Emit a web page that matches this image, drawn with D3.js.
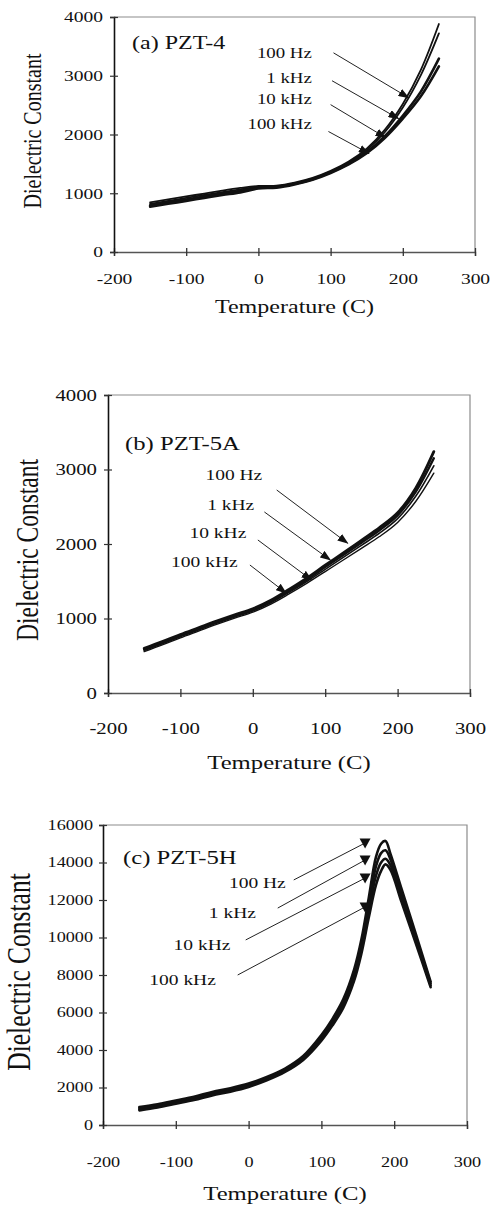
<!DOCTYPE html>
<html lang="en">
<head>
<meta charset="utf-8">
<title>Dielectric Constant vs Temperature</title>
<script src="https://cdnjs.cloudflare.com/ajax/libs/d3/7.8.5/d3.min.js"></script>
<style>
  body { margin: 0; background: #fff; }
  svg { display: block; font-family: "Liberation Serif", "Times New Roman", serif; }
  .frame { fill: none; stroke: #8c8c8c; stroke-width: 1.2; }
  .curve { fill: none; stroke: #111; stroke-linejoin: round; stroke-linecap: round; }
  .pointer { stroke: #222; stroke-width: 1; fill: none; }
  text { fill: #111; }
</style>
</head>
<body>
<svg id="chart" width="490" height="1207"></svg>
<script>
// ---- data ----
var freqLabels = ["100 Hz", "1 kHz", "10 kHz", "100 kHz"];
var xTicks = [-200, -100, 0, 100, 200, 300];
var yTicks4000 = [0, 1000, 2000, 3000, 4000];
var yTicks16000 = [0, 2000, 4000, 6000, 8000, 10000, 12000, 14000, 16000];

// (a) PZT-4
var tempA = [-150, -125, -100, -75, -50, -25, 0, 25, 50, 75, 100, 125, 150, 175, 200, 225, 250];
var pzt4_100Hz  = [845, 895, 945, 995, 1045, 1090, 1125, 1130, 1180, 1260, 1380, 1540, 1760, 2080, 2520, 3100, 3880];
var pzt4_1kHz   = [820, 870, 920, 970, 1020, 1065, 1110, 1118, 1170, 1250, 1370, 1525, 1735, 2040, 2460, 3010, 3720];
var pzt4_10kHz  = [795, 845, 895, 945, 995, 1040, 1095, 1106, 1160, 1240, 1355, 1505, 1700, 1970, 2320, 2730, 3290];
var pzt4_100kHz = [770, 820, 870, 920, 970, 1015, 1080, 1095, 1150, 1230, 1345, 1490, 1680, 1940, 2270, 2650, 3160];

// (b) PZT-5A
var tempB = [-150, -125, -100, -75, -50, -25, 0, 25, 50, 75, 100, 125, 150, 175, 200, 225, 250];
var pzt5a_100Hz  = [600, 690, 785, 875, 965, 1050, 1130, 1245, 1390, 1545, 1715, 1880, 2050, 2220, 2420, 2750, 3240];
var pzt5a_1kHz   = [585, 675, 770, 860, 950, 1035, 1115, 1228, 1370, 1525, 1690, 1852, 2017, 2185, 2385, 2700, 3150];
var pzt5a_10kHz  = [570, 660, 755, 845, 935, 1020, 1100, 1211, 1350, 1500, 1660, 1820, 1982, 2145, 2340, 2640, 3050];
var pzt5a_100kHz = [555, 645, 740, 830, 920, 1005, 1085, 1194, 1330, 1475, 1630, 1785, 1942, 2100, 2290, 2570, 2950];

// (c) PZT-5H
var tempC = [-150, -125, -100, -75, -50, -25, 0, 25, 50, 75, 100, 115, 130, 145, 155, 165, 175, 182, 188, 195, 210, 230, 250];
var pzt5h_100Hz  = [960, 1110, 1310, 1510, 1760, 1960, 2210, 2560, 3010, 3680, 4800, 5650, 6700, 8300, 9900, 12100, 14300, 15000, 15150, 14450, 12600, 10150, 7650];
var pzt5h_1kHz   = [900, 1050, 1250, 1450, 1700, 1900, 2150, 2500, 2950, 3610, 4700, 5530, 6550, 8100, 9650, 11750, 13800, 14500, 14650, 14150, 12350, 9950, 7550];
var pzt5h_10kHz  = [840, 990, 1190, 1390, 1640, 1840, 2090, 2440, 2890, 3540, 4600, 5410, 6400, 7900, 9400, 11400, 13300, 14000, 14200, 13850, 12100, 9800, 7450];
var pzt5h_100kHz = [780, 930, 1130, 1330, 1580, 1780, 2030, 2380, 2830, 3470, 4500, 5300, 6250, 7700, 9150, 11050, 12800, 13550, 13900, 13600, 11900, 9650, 7350];

// annotation anchors, in data units (temperature, dielectric constant)
var labelAtA   = [[74, 3390], [74, 2966], [74, 2610], [74, 2186]];
var arrowFromA = [[104, 3390], [102, 2915], [100, 2508], [97, 2051]];
var arrowToA   = [[208, 2627], [194, 2271], [176, 1949], [153, 1678]];

var labelAtB   = [[13, 2926], [2, 2523], [-9, 2148], [-21, 1758]];
var arrowFromB = [[33, 2725], [16, 2430], [7, 2054], [-4, 1718]];
var arrowToB   = [[131, 2010], [107, 1785], [81, 1517], [46, 1342]];

var labelAtC   = [[51, 12910], [10, 11310], [-25, 9600], [-45, 7730]];
var arrowFromC = [[62, 13070], [40, 11570], [-4, 9870], [-15, 8000]];
var arrowToC   = [[160, 15040], [160, 14130], [160, 13170], [160, 11630]];

// ---- drawing ----
var SX = 1.3; // the scan is stretched sideways; text is widened to match
var svg = d3.select("#chart");

svg.append("defs").append("marker")
  .attr("id", "head")
  .attr("markerUnits", "userSpaceOnUse")
  .attr("markerWidth", 11).attr("markerHeight", 8)
  .attr("refX", 10).attr("refY", 4)
  .attr("orient", "auto")
  .append("path").attr("d", "M0,0L11,4L0,8Z").attr("fill", "#111");

function stretchedText(g, str, px, py, size, anchor) {
  return g.append("text")
    .attr("transform", "translate(" + px + "," + py + ") scale(" + SX + ",1)")
    .attr("text-anchor", anchor || "start")
    .attr("dy", "0.35em")
    .attr("font-size", size)
    .text(str);
}

function panel(o) {
  var x = d3.scaleLinear().domain([-200, 300]).range([o.left, o.right]);
  var y = d3.scaleLinear().domain([0, o.ymax]).range([o.bottom, o.top]);
  var g = svg.append("g");

  // top and right frame
  g.append("path").attr("class", "frame")
    .attr("d", "M" + o.left + "," + o.top + "H" + x(300) + "V" + o.bottom);

  // x axis
  var xa = g.append("g")
    .attr("transform", "translate(0," + o.bottom + ")")
    .call(d3.axisBottom(x).tickValues(xTicks).tickSizeOuter(0).tickSize(4)
      .tickFormat(function(d) { return String(d); }));
  xa.attr("font-family", null).attr("font-size", o.tickSize);
  xa.select(".domain").attr("stroke", "#555").attr("stroke-width", 1.4);
  xa.selectAll(".tick line").attr("y1", -4).attr("y2", 4).attr("stroke", "#333").attr("stroke-width", 1.3);
  xa.selectAll(".tick text").attr("y", o.xLabOff).attr("dy", "0.35em")
    .attr("transform", "scale(" + SX + ",1)").attr("fill", "#111");

  // y axis
  var ya = g.append("g")
    .attr("transform", "translate(" + o.left + ",0)")
    .call(d3.axisLeft(y).tickValues(o.yTicks).tickSizeOuter(0).tickSize(4)
      .tickFormat(function(d) { return String(d); }));
  ya.attr("font-family", null).attr("font-size", o.tickSize);
  ya.select(".domain").attr("stroke", "#111").attr("stroke-width", 1.6);
  ya.selectAll(".tick line").attr("x1", -4).attr("x2", 4).attr("stroke", "#333").attr("stroke-width", 1.2);
  ya.selectAll(".tick text").attr("x", -o.yLabOff / SX)
    .attr("transform", "scale(" + SX + ",1)").attr("fill", "#111");

  // axis titles
  stretchedText(g, "Temperature (C)", (o.left + x(300)) / 2, o.xTitleY, o.xTitleSize, "middle");
  g.append("text")
    .attr("transform", "translate(" + o.yTitleX + "," + o.yTitleY + ") rotate(-90) scale(1," + SX + ")")
    .attr("text-anchor", "middle").attr("dy", "0.35em")
    .attr("font-size", o.yTitleSize)
    .text("Dielectric Constant");

  // panel title
  stretchedText(g, o.title, o.titleX, o.titleY, o.titleSize, "start");

  // curves
  var line = d3.line()
    .x(function(d) { return x(d[0]); })
    .y(function(d) { return y(d[1]); })
    .curve(d3.curveCatmullRom.alpha(0.5));
  o.series.forEach(function(vals, i) {
    g.append("path").attr("class", "curve")
      .attr("stroke-width", o.widths[i])
      .attr("d", line(o.temps.map(function(t, j) { return [t, vals[j]]; })));
  });

  // pointers and labels
  freqLabels.forEach(function(lab, i) {
    var a = o.from[i], b = o.to[i];
    var p = g.append("line").attr("class", "pointer")
      .attr("x1", x(a[0])).attr("y1", y(a[1]))
      .attr("x2", x(b[0])).attr("y2", y(b[1]));
    if (o.downHeads) {
      g.append("path")
        .attr("transform", "translate(" + x(b[0]) + "," + y(b[1]) + ")")
        .attr("d", "M-5.5,-4.5L5.5,-4.5L0,5.5Z").attr("fill", "#111");
    } else {
      p.attr("marker-end", "url(#head)");
    }
    stretchedText(g, lab, x(o.labels[i][0]), y(o.labels[i][1]), o.labSize, "end");
  });
}

panel({
  left: 114, right: 475, top: 17, bottom: 252, ymax: 4000, yTicks: yTicks4000,
  tickSize: 15, xLabOff: 27, yLabOff: 11,
  xTitleY: 307, xTitleSize: 18.5, yTitleX: 32, yTitleY: 131, yTitleSize: 20,
  title: "(a) PZT-4", titleX: 132, titleY: 43, titleSize: 18.5,
  temps: tempA, series: [pzt4_100Hz, pzt4_1kHz, pzt4_10kHz, pzt4_100kHz], widths: [1.8, 1.8, 2.6, 2.6],
  labels: labelAtA, from: arrowFromA, to: arrowToA, labSize: 14.5, downHeads: false
});

panel({
  left: 108, right: 470, top: 395, bottom: 693, ymax: 4000, yTicks: yTicks4000,
  tickSize: 16, xLabOff: 35, yLabOff: 11,
  xTitleY: 762, xTitleSize: 19, yTitleX: 27, yTitleY: 550, yTitleSize: 23.5,
  title: "(b) PZT-5A", titleX: 125, titleY: 443, titleSize: 19,
  temps: tempB, series: [pzt5a_100Hz, pzt5a_1kHz, pzt5a_10kHz, pzt5a_100kHz], widths: [2.8, 2.4, 1.6, 1.4],
  labels: labelAtB, from: arrowFromB, to: arrowToB, labSize: 15, downHeads: false
});

panel({
  left: 103, right: 467, top: 825, bottom: 1125, ymax: 16000, yTicks: yTicks16000,
  tickSize: 14, xLabOff: 37, yLabOff: 10,
  xTitleY: 1193, xTitleSize: 19, yTitleX: 18, yTitleY: 972, yTitleSize: 25.5,
  title: "(c) PZT-5H", titleX: 123, titleY: 857, titleSize: 19,
  temps: tempC, series: [pzt5h_100Hz, pzt5h_1kHz, pzt5h_10kHz, pzt5h_100kHz], widths: [2.6, 2.6, 2.6, 2.6],
  labels: labelAtC, from: arrowFromC, to: arrowToC, labSize: 15, downHeads: true
});
</script>
</body>
</html>
